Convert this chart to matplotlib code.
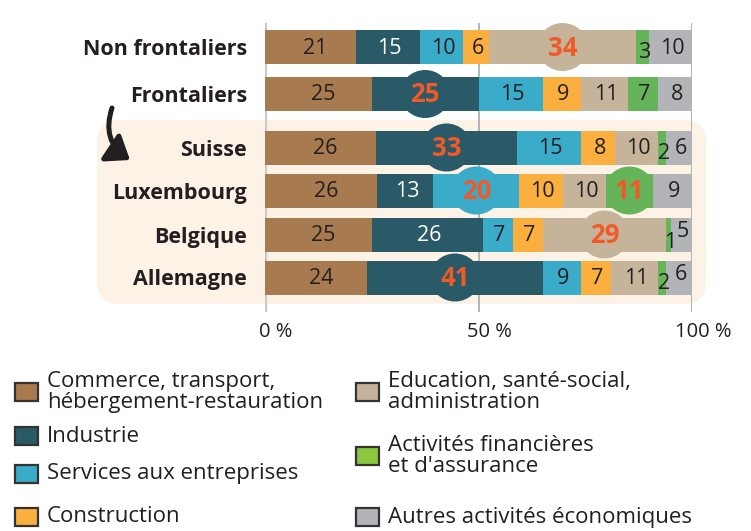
import matplotlib
matplotlib.use("Agg")
import matplotlib.pyplot as plt
from matplotlib.patches import Ellipse, FancyBboxPatch, FancyArrowPatch, Rectangle
from matplotlib.transforms import IdentityTransform, ScaledTranslation

plt.rcParams['font.family'] = ['Open Sans', 'DejaVu Sans']

# ---------------- data ----------------
rows = ["Non frontaliers", "Frontaliers", "Suisse", "Luxembourg", "Belgique", "Allemagne"]
sectors = ["Commerce, transport,\nhébergement-restauration", "Industrie", "Services aux entreprises",
           "Construction", "Education, santé-social,\nadministration",
           "Activités financières\net d'assurance", "Autres activités économiques"]
commerce     = [21, 25, 26, 26, 25, 24]
industrie    = [15, 25, 33, 13, 26, 41]
services     = [10, 15, 15, 20, 7, 9]
construction = [6, 9, 8, 10, 7, 7]
education    = [34, 11, 10, 10, 29, 11]
finance      = [3, 7, 2, 11, 1, 2]
autres       = [10, 8, 6, 9, 5, 6]
series = [commerce, industrie, services, construction, education, finance, autres]
# highlighted cells (row index, sector index)
highlights = [(0, 4), (1, 1), (2, 1), (3, 2), (3, 5), (4, 4), (5, 1)]
tick_values = [0, 50, 100]
tick_labels = ["0 %", "50 %", "100 %"]

# ---------------- style ----------------
colors = ['#A77B4F', '#2A5968', '#3AABC9', '#FBAF3F', '#C5B49A', '#66B45A', '#B2B4B7']
legend_colors = ['#A77B4F', '#2A5968', '#3AABC9', '#FBAF3F', '#C5B49A', '#8CC63F', '#B2B4B7']
white_text_sector = 1
dark = '#231F20'
hl_color = '#F05A28'

W, H = 751, 531
fig = plt.figure(figsize=(W / 100, H / 100), dpi=100)

def fx(x):
    return x / W

def fy(y):
    return 1 - y / H

# background highlight box for frontaliers' detail (pixel coords)
box = FancyBboxPatch((97, H - 304), 609, 184, boxstyle="round,pad=0,rounding_size=22",
                     transform=IdentityTransform(), facecolor='#FDF2E6', edgecolor='none', zorder=-5)
fig.patches.append(box)

top_px, bot_px = 23, 312
ax = fig.add_axes([fx(265), fy(bot_px), fx(692) - fx(265), (bot_px - top_px) / H])
ax.set_facecolor('none')
ax.set_zorder(1)
ax.set_xlim(0, 100)
ax.set_ylim(bot_px, top_px)
px_per_pct = (692 - 265) / 100.0

# y positions (layout, pixel units)
ypos = [47, 94, 147.5, 190.5, 234.5, 277.5]
bar_h = 34

for s in ax.spines.values():
    s.set_visible(False)
ax.axvline(0, color='#C9C9C9', lw=3, zorder=0.5)
ax.axvline(50, color='#A9A9A9', lw=1.2, zorder=0.5)
ax.axvline(100, color='#B5B5B5', lw=1.5, zorder=0.5)

nudges = {(0, 5): 4, (2, 5): 5, (4, 5): 7, (4, 6): -4, (5, 5): 5, (5, 6): -4}

for i, r in enumerate(rows):
    vals = [s[i] for s in series]
    tot = sum(vals)
    left = 0.0
    for j, v in enumerate(vals):
        w = v / tot * 100
        ax.barh(ypos[i], w, left=left, height=bar_h, color=colors[j], zorder=2, linewidth=0)
        xc = left + w / 2
        yc = ypos[i] + nudges.get((i, j), 0)
        if (i, j) in highlights:
            ax.add_patch(Ellipse((xc, ypos[i]), width=50 / px_per_pct, height=48,
                                 facecolor=colors[j], edgecolor='none', zorder=1))
            ax.text(xc, yc + 1, str(v), ha='center', va='center', fontsize=18.5,
                    fontweight='bold', color=hl_color, zorder=3)
        else:
            tc = 'white' if j == white_text_sector else dark
            dx = 1.2 if j == 0 else 0.4
            ax.text(xc + dx, yc + 1, str(v), ha='center', va='center', fontsize=15.5,
                    color=tc, zorder=3)
        left += w

ax.set_yticks(ypos)
ax.set_yticklabels(rows, fontsize=15.5, fontweight='bold', color=dark)
ax.tick_params(axis='y', length=0, pad=13)
ax.set_xticks(tick_values)
ax.set_xticklabels(tick_labels, fontsize=14.5, color=dark)
ax.tick_params(axis='x', length=0, pad=7)
off = ScaledTranslation(8 / 72, 0, fig.dpi_scale_trans)
for lab in ax.get_xticklabels():
    lab.set_transform(lab.get_transform() + off)

# curved arrow
arrow = FancyArrowPatch((112, H - 108), (130, H - 160), transform=IdentityTransform(),
                        connectionstyle="arc3,rad=0.38", arrowstyle="-|>,head_length=0.6,head_width=0.45",
                        mutation_scale=22, lw=3.6, color=dark, zorder=5, shrinkA=0, shrinkB=0)
fig.patches.append(arrow)

# legend (manual layout, pixel coords)
leg_pos = [(15, 392), (15, 436), (15, 474), (15, 517), (356, 392), (356, 456), (356, 517)]
sq_w, sq_h = 23, 18
for (x, y), lab, c in zip(leg_pos, sectors, legend_colors):
    fig.patches.append(Rectangle((x, H - y - sq_h / 2), sq_w, sq_h, transform=IdentityTransform(),
                                 facecolor=c, edgecolor='#333333', lw=1.6))
    fig.text(fx(x + sq_w + 9), fy(y), lab, ha='left', va='center', fontsize=16,
             color=dark, linespacing=0.95)

fig.savefig("out.png", dpi=100)
